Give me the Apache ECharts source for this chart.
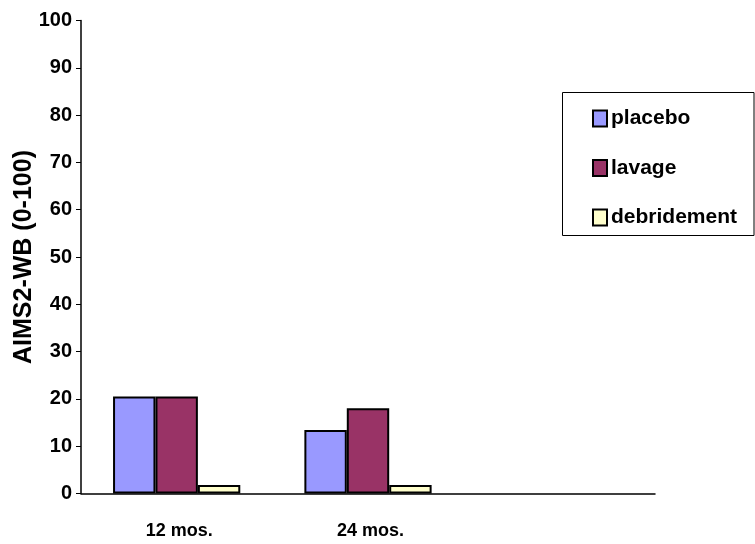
<!DOCTYPE html>
<html>
<head>
<meta charset="utf-8">
<script src="https://cdn.jsdelivr.net/npm/echarts@6/dist/echarts.min.js"></script>
<style>
  html, body { margin: 0; padding: 0; background: #fff; }
  #chart { width: 755px; height: 544px; }
</style>
</head>
<body>
<div id="chart"></div>
<script>
// AIMS2-WB scores by follow-up time and treatment arm
const categories = ['12 mos.', '24 mos.', ''];
const placebo = [20.5, 13.4, null];
const lavage = [20.5, 18.0, null];
const debridement = [1.8, 1.8, null];
const yTicks = { min: 0, max: 100, interval: 10 };

const FONT = '"Liberation Sans", Arial, sans-serif';

const chart = echarts.init(document.getElementById('chart'), null, { renderer: 'canvas' });

function barSeries(name, data, color) {
  return {
    name: name,
    type: 'bar',
    data: data,
    barGap: '0%',
    barCategoryGap: '33.5%',
    itemStyle: { color: color, borderColor: '#000', borderWidth: 2 },
    emphasis: { disabled: true }
  };
}

chart.setOption({
  animation: false,
  backgroundColor: '#fff',
  grid: { left: 81, right: 100, top: 20.5, bottom: 50.5, outerBoundsMode: 'none', containLabel: false },
  legend: {
    orient: 'vertical',
    left: 587,
    top: 103,
    icon: 'rect',
    itemWidth: 14,
    itemHeight: 16,
    itemGap: 28.5,
    selectedMode: false,
    textStyle: { fontFamily: FONT, fontWeight: 'bold', fontSize: 21, color: '#000', lineHeight: 20, padding: [0, 0, 0, -1] },
    data: ['placebo', 'lavage', 'debridement']
  },
  graphic: [{
    type: 'rect',
    shape: { x: 562.5, y: 92.5, width: 191.5, height: 143 },
    style: { fill: 'none', stroke: '#000', lineWidth: 1 },
    z: -1
  }],
  xAxis: {
    type: 'category',
    data: categories,
    axisLine: { lineStyle: { color: '#000', width: 1.5 } },
    axisTick: { show: false },
    axisLabel: { fontFamily: FONT, fontWeight: 'bold', fontSize: 18, color: '#000', margin: 29, padding: [0, 0, 0, 5] }
  },
  yAxis: {
    type: 'value',
    min: yTicks.min,
    max: yTicks.max,
    interval: yTicks.interval,
    name: 'AIMS2-WB (0-100)',
    nameLocation: 'middle',
    nameGap: 44,
    nameRotate: 90,
    nameMoveOverlap: false,
    nameTextStyle: { fontFamily: FONT, fontWeight: 'bold', fontSize: 25, color: '#000' },
    axisLine: { show: true, lineStyle: { color: '#000', width: 1.5 } },
    axisTick: { show: true, length: 5, lineStyle: { color: '#000', width: 1 } },
    splitLine: { show: false },
    axisLabel: { fontFamily: FONT, fontWeight: 'bold', fontSize: 20, color: '#000', margin: 9 }
  },
  series: [
    barSeries('placebo', placebo, '#9999FF'),
    barSeries('lavage', lavage, '#993366'),
    barSeries('debridement', debridement, '#FFFFCC')
  ]
});
</script>
</body>
</html>
